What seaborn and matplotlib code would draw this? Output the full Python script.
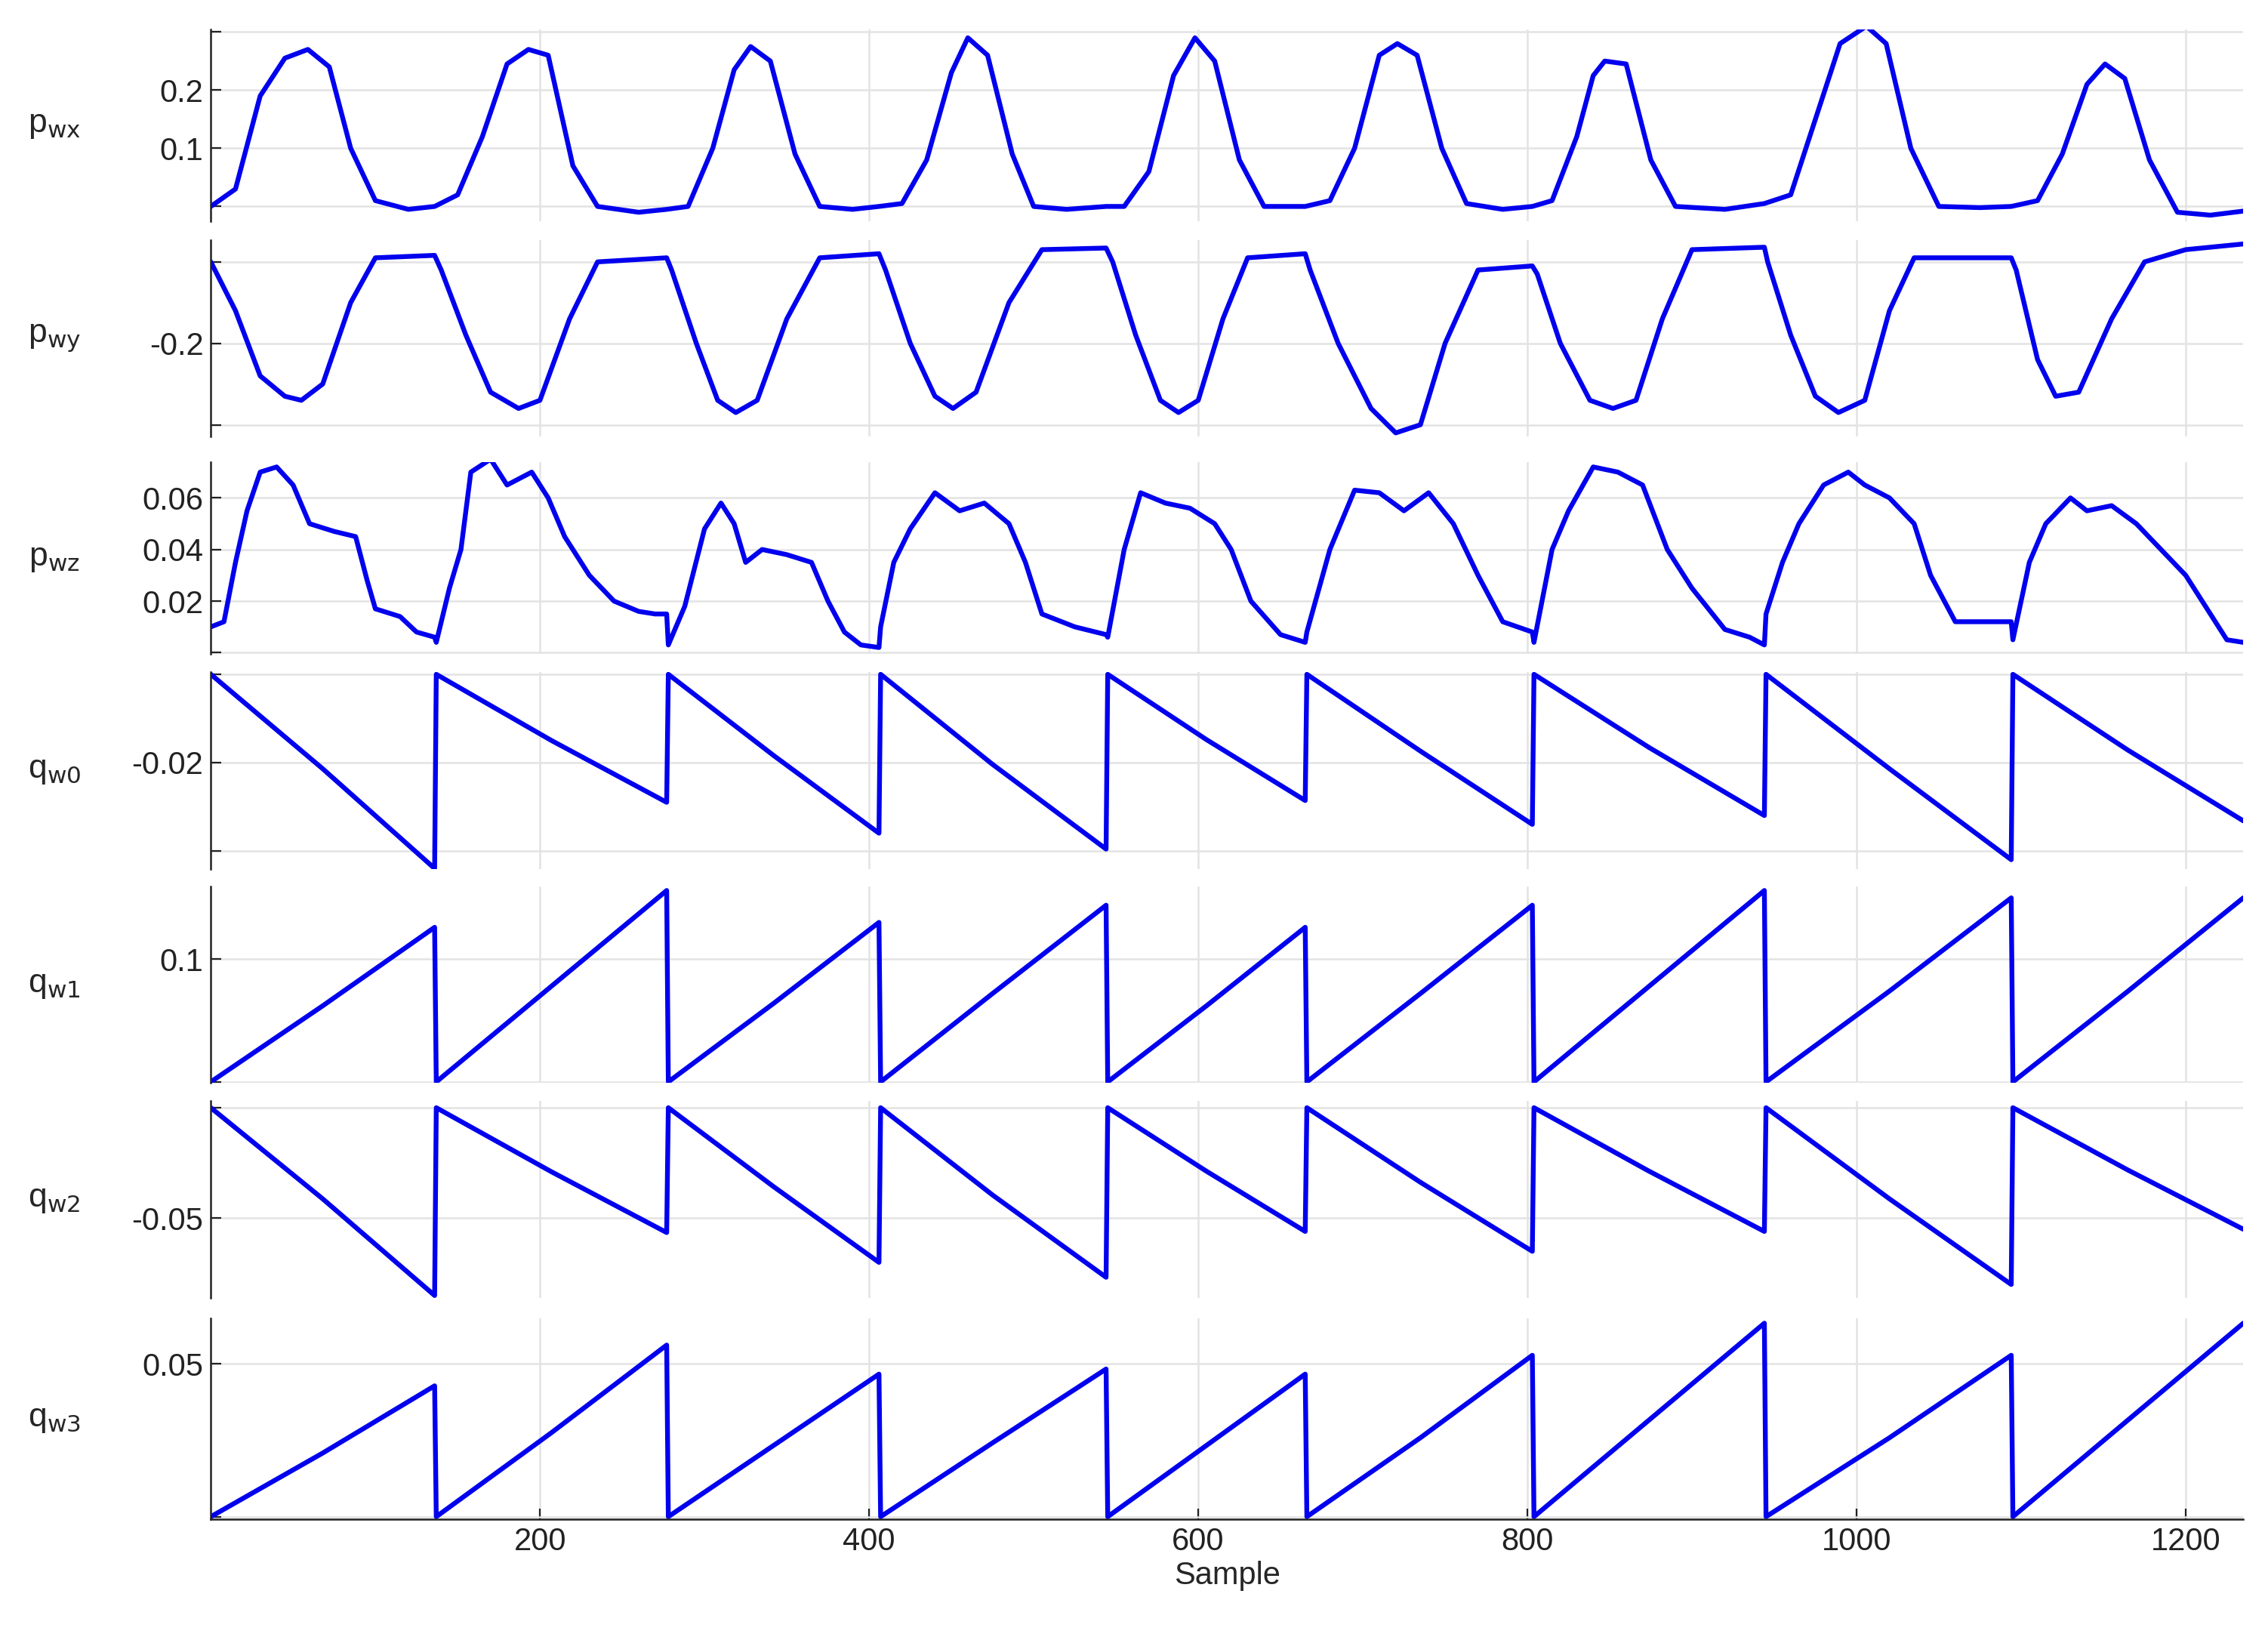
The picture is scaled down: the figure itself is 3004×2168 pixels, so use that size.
import numpy as np
import pandas as pd
import matplotlib
matplotlib.use('Agg')
import matplotlib.pyplot as plt
import seaborn as sns

sns.set_style('whitegrid')
plt.rcParams['font.family'] = ['Liberation Sans', 'DejaVu Sans']

# ---- data ----
pwx_x = [0, 15, 30, 45, 59, 72, 85, 100, 120, 136,
         150, 165, 180, 193, 205, 220, 235, 260, 277,
         290, 305, 318, 328, 340, 355, 370, 390, 406,
         420, 435, 450, 460, 472, 487, 500, 520, 544,
         555, 570, 585, 598, 610, 625, 640, 655, 665,
         680, 695, 710, 721, 733, 748, 763, 785, 803,
         815, 830, 840, 847, 860, 875, 890, 920, 944,
         960, 975, 990, 1006, 1018, 1033, 1050, 1075, 1094,
         1110, 1125, 1140, 1151, 1163, 1178, 1195, 1215, 1235]
pwx_y = [0.00, 0.03, 0.19, 0.255, 0.27, 0.24, 0.10, 0.01, -0.005, 0.0,
         0.02, 0.12, 0.245, 0.27, 0.26, 0.07, 0.0, -0.01, -0.005,
         0.0, 0.10, 0.235, 0.275, 0.25, 0.09, 0.0, -0.005, 0.0,
         0.005, 0.08, 0.23, 0.29, 0.26, 0.09, 0.0, -0.005, 0.0,
         0.0, 0.06, 0.225, 0.29, 0.25, 0.08, 0.0, 0.0, 0.0,
         0.01, 0.10, 0.26, 0.28, 0.26, 0.10, 0.005, -0.005, 0.0,
         0.01, 0.12, 0.225, 0.25, 0.245, 0.08, 0.0, -0.005, 0.005,
         0.02, 0.15, 0.28, 0.31, 0.28, 0.10, 0.0, -0.002, 0.0,
         0.01, 0.09, 0.21, 0.245, 0.22, 0.08, -0.01, -0.015, -0.008]

pwy_x = [0, 15, 30, 45, 55, 68, 85, 100, 136,
         140, 155, 170, 187, 200, 218, 235, 277,
         280, 295, 308, 319, 332, 350, 370, 406,
         410, 425, 440, 451, 465, 485, 505, 544,
         548, 562, 577, 588, 600, 615, 630, 665,
         668, 685, 705, 720, 735, 750, 770, 803,
         806, 820, 838, 852, 866, 882, 900, 944,
         946, 960, 975, 989, 1005, 1020, 1035, 1094,
         1097, 1110, 1121, 1135, 1155, 1175, 1200, 1235]
pwy_y = [-0.10, -0.16, -0.24, -0.265, -0.27, -0.25, -0.15, -0.095, -0.092,
         -0.11, -0.19, -0.26, -0.28, -0.27, -0.17, -0.10, -0.095,
         -0.11, -0.20, -0.27, -0.285, -0.27, -0.17, -0.095, -0.09,
         -0.11, -0.20, -0.265, -0.28, -0.26, -0.15, -0.085, -0.083,
         -0.10, -0.19, -0.27, -0.285, -0.27, -0.17, -0.095, -0.09,
         -0.11, -0.20, -0.28, -0.31, -0.30, -0.20, -0.11, -0.105,
         -0.115, -0.20, -0.27, -0.28, -0.27, -0.17, -0.085, -0.082,
         -0.10, -0.19, -0.265, -0.285, -0.27, -0.16, -0.095, -0.095,
         -0.11, -0.22, -0.265, -0.26, -0.17, -0.10, -0.085, -0.078]

pwz_x = [0, 8, 15, 22, 30, 40, 50, 60, 75, 88, 95, 100, 115, 125, 136,
         137, 145, 152, 158, 170, 180, 195, 205, 215, 230, 245, 260, 270, 277,
         278, 288, 300, 310, 318, 325, 335, 350, 365, 375, 385, 395, 406,
         407, 415, 425, 440, 455, 470, 485, 495, 505, 525, 544,
         545, 555, 565, 580, 595, 610, 620, 632, 650, 665,
         666, 680, 695, 710, 725, 740, 755, 770, 785, 803,
         804, 815, 825, 840, 855, 870, 885, 900, 920, 935, 944,
         945, 955, 965, 980, 995, 1005, 1020, 1035, 1045, 1060, 1080, 1094,
         1095, 1105, 1115, 1130, 1140, 1155, 1170, 1185, 1200, 1215, 1225, 1235]
pwz_y = [0.01, 0.012, 0.035, 0.055, 0.07, 0.072, 0.065, 0.05, 0.047, 0.045, 0.028, 0.017, 0.014, 0.008, 0.006,
         0.004, 0.025, 0.04, 0.07, 0.075, 0.065, 0.07, 0.06, 0.045, 0.03, 0.02, 0.016, 0.015, 0.015,
         0.003, 0.018, 0.048, 0.058, 0.05, 0.035, 0.04, 0.038, 0.035, 0.02, 0.008, 0.003, 0.002,
         0.01, 0.035, 0.048, 0.062, 0.055, 0.058, 0.05, 0.035, 0.015, 0.01, 0.007,
         0.006, 0.04, 0.062, 0.058, 0.056, 0.05, 0.04, 0.02, 0.007, 0.004,
         0.008, 0.04, 0.063, 0.062, 0.055, 0.062, 0.05, 0.03, 0.012, 0.008,
         0.004, 0.04, 0.055, 0.072, 0.07, 0.065, 0.04, 0.025, 0.009, 0.006, 0.003,
         0.015, 0.035, 0.05, 0.065, 0.07, 0.065, 0.06, 0.05, 0.03, 0.012, 0.012, 0.012,
         0.005, 0.035, 0.05, 0.06, 0.055, 0.057, 0.05, 0.04, 0.03, 0.015, 0.005, 0.004]

q_x = [0, 68, 136, 137, 207, 277, 278, 342, 406, 407, 475, 544, 545, 605, 665,
       666, 735, 803, 804, 874, 944, 945, 1020, 1094, 1095, 1165, 1235]
qw0_y = [-0.0100, -0.0207, -0.0320, -0.0100, -0.0175, -0.0245, -0.0100, -0.0192, -0.0280,
         -0.0100, -0.0202, -0.0298, -0.0100, -0.0174, -0.0243, -0.0100, -0.0187, -0.0270,
         -0.0100, -0.0183, -0.0260, -0.0100, -0.0207, -0.0310, -0.0100, -0.0186, -0.0266]
qw1_y = [0.05, 0.081, 0.113, 0.05, 0.089, 0.128, 0.05, 0.082, 0.115,
         0.05, 0.086, 0.122, 0.05, 0.081, 0.113, 0.05, 0.086, 0.122,
         0.05, 0.089, 0.128, 0.05, 0.087, 0.125, 0.05, 0.087, 0.125]
qw2_y = [-0.03, -0.0465, -0.064, -0.03, -0.0416, -0.0526, -0.03, -0.0443, -0.058,
         -0.03, -0.0458, -0.0607, -0.03, -0.0415, -0.0524, -0.03, -0.0435, -0.056,
         -0.03, -0.0415, -0.0524, -0.03, -0.0465, -0.062, -0.03, -0.0413, -0.052]
qw3_y = [0.02, 0.0325, 0.0457, 0.02, 0.0365, 0.0537, 0.02, 0.034, 0.048,
         0.02, 0.0345, 0.049, 0.02, 0.034, 0.048, 0.02, 0.0355, 0.0517,
         0.02, 0.039, 0.058, 0.02, 0.0355, 0.0517, 0.02, 0.039, 0.058]

# label, x, y, ylim, grid ticks, labelled ticks
panels = [
    ('p$_{\\rm wx}$', pwx_x, pwx_y, (-0.025, 0.305), [0, 0.1, 0.2, 0.3], ['', '0.1', '0.2', '']),
    ('p$_{\\rm wy}$', pwy_x, pwy_y, (-0.314, -0.073), [-0.3, -0.2, -0.1], ['', '-0.2', '']),
    ('p$_{\\rm wz}$', pwz_x, pwz_y, (-0.0006, 0.0738), [0, 0.02, 0.04, 0.06], ['', '0.02', '0.04', '0.06']),
    ('q$_{\\rm w0}$', q_x, qw0_y, (-0.0321, -0.0097), [-0.03, -0.02, -0.01], ['', '-0.02', '']),
    ('q$_{\\rm w1}$', q_x, qw1_y, (0.0495, 0.1295), [0.05, 0.1], ['', '0.1']),
    ('q$_{\\rm w2}$', q_x, qw2_y, (-0.0645, -0.0287), [-0.05, -0.03], ['-0.05', '']),
    ('q$_{\\rm w3}$', q_x, qw3_y, (0.0195, 0.0589), [0.02, 0.05], ['', '0.05']),
]

# panel extents in reference pixels (display scale 1560 x 1126)
W, H = 1560.0, 1126.0
rows = [(20, 152), (165, 300), (318, 450), (462, 598), (610, 745), (757, 893), (907, 1045)]

fig = plt.figure(figsize=(15.02, 10.84), dpi=200)
axes = []
for (lab, xs, ys, ylim, ticks, tlabs), (top, bot) in zip(panels, rows):
    ax = fig.add_axes([145 / W, 1 - bot / H, 1398 / W, (bot - top) / H])
    df = pd.DataFrame({'x': xs, 'y': ys})
    sns.lineplot(data=df, x='x', y='y', ax=ax, color='#0000ee', linewidth=2.3,
                 sort=False, estimator=None)
    ax.set_xlim(0, 1235)
    ax.set_ylim(*ylim)
    ax.set_yticks(ticks)
    ax.set_yticklabels(tlabs, fontsize=15)
    ax.set_xticks([200, 400, 600, 800, 1000, 1200])
    ax.grid(True, color='#e3e3e3', linewidth=0.9)
    for s in ['top', 'right', 'bottom']:
        ax.spines[s].set_visible(False)
    ax.spines['left'].set_color('#222222')
    ax.spines['left'].set_linewidth(0.9)
    ax.tick_params(axis='y', direction='in', length=5, left=True, colors='#222222', labelcolor='#222222')
    ax.set_ylabel(lab, rotation=0, fontsize=16, va='center', ha='center')
    ax.yaxis.set_label_coords(-0.077, 0.5)
    ax.set_xlabel('')
    axes.append(ax)

for ax in axes[:-1]:
    ax.tick_params(axis='x', bottom=False, labelbottom=False)
last = axes[-1]
last.spines['bottom'].set_visible(True)
last.spines['bottom'].set_color('#222222')
last.spines['bottom'].set_linewidth(0.9)
last.tick_params(axis='x', direction='in', length=5, bottom=True, labelsize=15, colors='#222222')
last.set_xlabel('Sample', fontsize=15, labelpad=2)

fig.savefig('out.png', dpi=200)
